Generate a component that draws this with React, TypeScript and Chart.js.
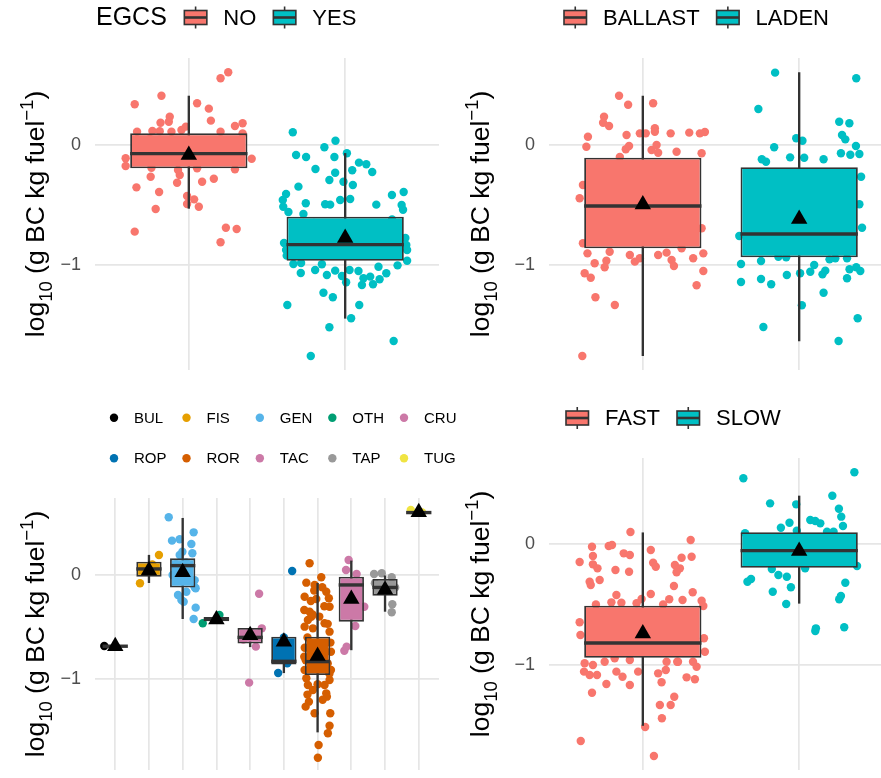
import React, { useEffect, useRef } from 'react';
import { Chart, registerables } from 'chart.js';

Chart.register(...registerables);

const FONT = '"Liberation Sans", Arial, Helvetica, sans-serif';
const RED = '#F8766D';
const CYAN = '#00BFC4';
const BOX_LINE = '#333333';
const GRID = '#E6E6E6';
const TICK_COLOR = '#4D4D4D';

// ---------------- EGCS panel ----------------
const egcsCategories = ['NO', 'YES'];
const egcsBoxLow = [-0.528, -1.444];
const egcsBoxQ1 = [-0.194, -0.964];
const egcsBoxMedian = [-0.072, -0.83];
const egcsBoxQ3 = [0.097, -0.597];
const egcsBoxHigh = [0.408, -0.07];
const egcsMeans = [-0.083, -0.774];
// [jitter offset (category units), log10 value]
const egcsNoPoints: [number, number][] = [
  [0.252, 0.606], [0.203, 0.556], [-0.175, 0.411], [-0.346, 0.339], [0.053, 0.348], [0.128, 0.303],
  [-0.122, 0.236], [-0.128, 0.194], [-0.181, 0.186], [0.141, 0.203], [0.295, 0.158], [0.344, 0.181],
  [-0.331, 0.11], [-0.233, 0.117], [-0.186, 0.114], [-0.111, 0.11], [-0.047, 0.125], [-0.019, 0.153],
  [0.203, 0.11], [0.344, 0.097], [-0.244, -0.264], [-0.335, -0.353], [-0.19, -0.392], [-0.075, -0.314],
  [-0.058, -0.25], [0.085, -0.306], [0.16, -0.281], [-0.011, -0.425], [0.034, -0.453], [0.064, -0.514],
  [-0.011, -0.492], [-0.212, -0.533], [-0.346, -0.722], [0.237, -0.689], [0.306, -0.7], [0.203, -0.811],
  [-0.404, -0.111], [-0.404, -0.175], [0.402, -0.114], [-0.239, -0.189], [-0.069, -0.208], [0.053, -0.194],
  [0.295, -0.203], [-0.1, -0.05], [0.2, 0.0], [-0.25, 0.05], [0.1, -0.12], [0.3, -0.03], [-0.3, -0.08],
];
const egcsYesPoints: [number, number][] = [
  [-0.335, 0.106], [-0.062, 0.036], [-0.133, -0.019], [-0.314, -0.083], [-0.25, -0.1], [-0.069, -0.1],
  [0.011, -0.069], [0.088, -0.147], [0.135, -0.161], [0.173, -0.225], [-0.19, -0.2], [-0.064, -0.231],
  [0.045, -0.211], [-0.101, -0.292], [-0.011, -0.306], [0.049, -0.333], [-0.299, -0.347], [-0.378, -0.408],
  [-0.399, -0.458], [-0.396, -0.514], [-0.252, -0.486], [-0.128, -0.494], [-0.096, -0.497], [-0.032, -0.458],
  [0.032, -0.45], [0.199, -0.497], [0.299, -0.417], [0.374, -0.392], [0.361, -0.5], [0.37, -0.539],
  [-0.363, -0.558], [-0.267, -0.575], [-0.331, -0.992], [-0.282, -0.983], [-0.284, -1.067], [-0.192, -1.042],
  [-0.149, -0.994], [-0.117, -1.083], [-0.064, -1.047], [-0.021, -1.092], [0.006, -1.144], [0.028, -1.042],
  [0.085, -1.05], [0.107, -1.167], [0.117, -1.111], [0.16, -1.097], [0.178, -1.161], [0.22, -1.119],
  [0.263, -1.069], [0.213, -1.014], [0.335, -1.003], [0.396, -0.964], [0.391, -0.833], [-0.374, -0.922],
  [-0.139, -1.231], [-0.079, -1.269], [-0.37, -1.333], [0.09, -1.333], [0.038, -1.444], [-0.101, -1.519],
  [0.31, -1.633], [-0.22, -1.758], [-0.391, -0.817], [-0.378, -0.875], [0.396, -0.875], [0.385, -0.775],
  [0.1, -0.7], [-0.2, -0.65], [0.25, -0.8], [-0.05, -0.9], [0.3, -0.62], [-0.3, -0.75],
];

// ---------------- Load panel ----------------
const loadCategories = ['BALLAST', 'LADEN'];
const loadBoxLow = [-1.756, -1.633];
const loadBoxQ1 = [-0.861, -0.936];
const loadBoxMedian = [-0.508, -0.742];
const loadBoxQ3 = [-0.106, -0.186];
const loadBoxHigh = [0.408, 0.603];
const loadMeans = [-0.495, -0.617];
const loadBallastPoints: [number, number][] = [
  [-0.152, 0.411], [-0.094, 0.336], [0.066, 0.348], [-0.248, 0.236], [-0.254, 0.186], [-0.216, 0.158],
  [-0.351, 0.069], [-0.361, -0.014], [-0.104, 0.083], [-0.019, 0.097], [0.019, 0.097], [0.077, 0.139],
  [0.077, 0.111], [0.178, 0.097], [0.297, 0.103], [0.365, 0.097], [0.397, 0.108], [-0.109, -0.036],
  [-0.088, -0.008], [0.056, -0.042], [0.088, 0.0], [0.098, -0.064], [0.216, -0.056], [0.376, -0.069],
  [-0.404, -0.444], [-0.383, -0.333], [0.376, -0.694], [-0.383, -0.819], [-0.354, -0.903], [-0.212, -0.889],
  [-0.308, -0.986], [-0.233, -0.964], [-0.244, -1.019], [-0.083, -0.917], [-0.051, -0.972], [-0.019, -0.944],
  [0.098, -0.917], [0.152, -0.897], [0.184, -0.958], [0.199, -1.008], [0.248, -0.861], [0.322, -0.944],
  [0.387, -0.903], [0.387, -1.05], [0.344, -1.169], [-0.372, -1.069], [-0.333, -1.106], [-0.303, -1.269],
  [-0.179, -1.333], [-0.387, -1.758], [-0.147, -0.1], [-0.2, -0.3], [0.1, -0.5], [0.3, -0.6], [-0.1, -0.7],
  [0.2, -0.2], [-0.3, -0.55], [0.0, -0.4],
];
const loadLadenPoints: [number, number][] = [
  [-0.154, 0.603], [0.365, 0.556], [-0.261, 0.3], [0.256, 0.194], [0.321, 0.181], [0.274, 0.083],
  [0.295, 0.047], [0.363, -0.008], [-0.019, 0.056], [0.021, 0.036], [-0.16, -0.019], [-0.058, -0.103],
  [0.032, -0.106], [-0.239, -0.119], [-0.212, -0.139], [0.156, -0.119], [0.267, -0.069], [0.327, -0.081],
  [0.385, -0.075], [0.396, -0.264], [0.385, -0.494], [0.402, -0.689], [-0.383, -0.758], [-0.372, -0.992],
  [-0.244, -0.967], [-0.133, -0.931], [-0.083, -0.936], [-0.372, -1.142], [-0.244, -1.117], [-0.179, -1.161],
  [-0.079, -1.083], [0.006, -1.069], [0.071, -1.056], [0.096, -1.0], [0.149, -1.078], [0.167, -1.047],
  [0.194, -0.953], [0.231, -0.944], [0.306, -0.944], [0.322, -1.036], [0.365, -1.019], [0.391, -1.05],
  [0.306, -1.111], [0.156, -1.231], [0.017, -1.336], [-0.229, -1.517], [0.374, -1.444], [0.252, -1.633],
  [0.1, -0.4], [-0.2, -0.6], [0.3, -0.3], [-0.3, -0.5], [0.0, -0.8], [0.2, -0.7],
];

// ---------------- Speed panel ----------------
const speedCategories = ['FAST', 'SLOW'];
const speedBoxLow = [-1.5, -0.49];
const speedBoxQ1 = [-0.94, -0.196];
const speedBoxMedian = [-0.818, -0.055];
const speedBoxQ3 = [-0.51, 0.097];
const speedBoxHigh = [0.093, 0.397];
const speedMeans = [-0.74, -0.058];
const speedFastPoints: [number, number][] = [
  [-0.079, 0.099], [-0.325, -0.022], [-0.218, -0.017], [-0.197, -0.008], [-0.122, -0.077], [-0.083, -0.091],
  [0.051, -0.05], [0.306, 0.033], [0.312, -0.105], [0.248, -0.113], [-0.319, -0.099], [-0.404, -0.149],
  [-0.319, -0.168], [-0.29, -0.201], [-0.175, -0.215], [-0.088, -0.229], [0.066, -0.155], [0.083, -0.188],
  [0.205, -0.174], [0.237, -0.201], [0.216, -0.234], [-0.34, -0.312], [-0.333, -0.339], [-0.276, -0.298],
  [0.199, -0.347], [0.051, -0.413], [0.319, -0.399], [-0.169, -0.421], [-0.201, -0.482], [-0.137, -0.485],
  [-0.008, -0.455], [0.169, -0.457], [0.254, -0.463], [0.376, -0.469], [0.387, -0.512], [-0.404, -0.647],
  [-0.399, -0.752], [0.391, -0.779], [0.397, -0.89], [-0.372, -0.986], [-0.319, -1.0], [-0.376, -1.055],
  [-0.34, -1.083], [-0.293, -1.083], [-0.169, -1.055], [-0.13, -1.097], [-0.233, -1.157], [-0.083, -1.165],
  [-0.03, -1.055], [0.098, -1.069], [0.12, -1.143], [0.147, -1.041], [0.22, -0.973], [0.28, -1.102],
  [0.333, -1.118], [0.344, -1.014], [-0.325, -1.229], [0.201, -1.262], [0.109, -1.331], [0.178, -1.331],
  [0.122, -1.44], [0.015, -1.512], [-0.397, -1.628], [0.071, -1.752], [-0.3, -0.5], [-0.04, -0.49],
  [0.13, -0.5], [-0.244, -0.973], [-0.18, -0.945], [-0.083, -0.959], [0.152, -0.973], [0.225, -0.973],
  [0.321, -0.973], [0.0, -0.7], [0.2, -0.6], [-0.2, -0.8], [0.1, -0.85], [-0.1, -0.65],
];
const speedSlowPoints: [number, number][] = [
  [-0.357, 0.543], [0.353, 0.593], [0.212, 0.399], [-0.186, 0.336], [-0.019, 0.328], [0.254, 0.292],
  [0.269, 0.226], [0.28, 0.149], [-0.062, 0.176], [-0.117, 0.135], [0.071, 0.198], [0.103, 0.19],
  [0.135, 0.171], [-0.015, 0.11], [0.178, 0.102], [0.22, 0.102], [-0.175, -0.207], [-0.133, -0.256],
  [-0.079, -0.27], [0.038, -0.201], [0.37, -0.182], [-0.308, -0.289], [-0.331, -0.312], [0.295, -0.32],
  [-0.053, -0.358], [-0.169, -0.394], [0.267, -0.43], [0.256, -0.457], [-0.083, -0.496], [0.107, -0.697],
  [0.103, -0.719], [0.288, -0.688], [-0.346, 0.09], [0.0, 0.0], [-0.2, -0.1], [0.2, -0.05], [0.1, -0.15],
  [-0.1, 0.05],
];

// ---------------- Ship type panel ----------------
const typeCategories = ['BUL', 'FIS', 'GEN', 'OTH', 'CRU', 'ROP', 'ROR', 'TAC', 'TAP', 'TUG'];
const typeColors = ['#000000', '#E69F00', '#56B4E9', '#009E73', '#CC79A7', '#0072B2', '#D55E00', '#CC79A7', '#999999', '#F0E442'];
const typeBoxLow = [-0.685, -0.074, -0.42, -0.464, -0.69, -0.94, -1.51, -0.72, -0.35, 0.6];
const typeBoxQ1 = [-0.685, -0.016, -0.12, -0.444, -0.66, -0.86, -0.962, -0.449, -0.199, 0.6];
const typeBoxMedian = [-0.685, 0.058, 0.09, -0.424, -0.6, -0.83, -0.833, -0.096, -0.12, 0.6];
const typeBoxQ3 = [-0.685, 0.128, 0.16, -0.405, -0.51, -0.593, -0.593, -0.016, -0.038, 0.6];
const typeBoxHigh = [-0.685, 0.19, 0.545, -0.385, -0.51, -0.593, -0.08, 0.135, 0.0, 0.6];
const typeMeans = [-0.685, 0.044, 0.025, -0.427, -0.58, -0.641, -0.778, -0.23, -0.143, 0.602];
const typeBulPoints: [number, number][] = [[-0.325, -0.683]];
const typeFisPoints: [number, number][] = [[0.296, 0.192], [-0.266, -0.08], [0.1, 0.1], [-0.1, 0.03]];
const typeGenPoints: [number, number][] = [
  [-0.414, 0.555], [0.325, 0.41], [-0.317, 0.33], [-0.089, 0.343], [0.257, 0.298], [-0.009, 0.224],
  [0.287, 0.209], [-0.089, 0.192], [0.355, -0.118], [-0.139, -0.192], [0.109, -0.161], [-0.038, -0.24],
  [0.03, -0.257], [0.385, -0.314], [0.325, -0.423], [0.355, -0.05], [0.385, -0.128], [0.0, 0.05],
  [-0.2, 0.1], [0.2, -0.05], [-0.3, 0.0], [0.1, 0.12],
];
const typeOthPoints: [number, number][] = [[-0.405, -0.464], [0.089, -0.385]];
const typeCruPoints: [number, number][] = [[0.266, -0.18], [0.346, -0.513], [0.169, -0.689], [-0.03, -1.035], [0.0, -0.55], [-0.2, -0.62]];
const typeRopPoints: [number, number][] = [[0.246, 0.038], [-0.169, -0.942], [0.0, -0.6], [0.1, -0.85]];
const typeRorPoints: [number, number][] = [
  [-0.237, 0.113], [0.109, -0.022], [-0.334, -0.074], [-0.089, -0.096], [0.139, -0.118], [0.257, -0.161],
  [-0.385, -0.209], [-0.038, -0.231], [0.334, -0.224], [0.355, -0.305], [-0.395, -0.337], [-0.237, -0.353],
  [-0.287, -0.433], [-0.186, -0.401], [0.207, -0.464], [-0.385, -0.497], [-0.139, -0.513], [0.355, -0.545],
  [0.395, -0.738], [-0.395, -0.786], [-0.385, -0.913], [0.395, -0.913], [-0.334, -0.993], [0.355, -1.01],
  [-0.287, -1.058], [0.207, -1.058], [-0.139, -1.106], [0.257, -1.138], [-0.257, -1.218], [-0.355, -1.266],
  [0.275, -1.17], [-0.089, -1.33], [0.376, -1.33], [0.355, -1.449], [0.305, -1.522], [0.03, -1.635],
  [0.009, -1.757], [-0.3, -0.6], [0.38, -0.65], [-0.38, -0.7], [0.3, -0.85], [-0.35, -0.82], [0.35, -0.95],
  [-0.2, -0.25], [0.2, -0.3], [-0.1, -0.15], [0.05, -0.4], [-0.3, -1.15], [0.15, -1.2], [0.0, -1.05],
  [-0.15, -0.38], [0.3, -0.47],
];
const typeTacPoints: [number, number][] = [
  [-0.08, 0.144], [-0.157, 0.048], [0.157, 0.01], [0.385, -0.305], [0.118, -0.49], [-0.207, -0.728],
  [-0.139, -0.689], [0.0, -0.2], [0.2, -0.1],
];
const typeTapPoints: [number, number][] = [
  [-0.325, 0.01], [-0.098, 0.016], [0.198, -0.022], [0.216, -0.282], [0.198, -0.359], [0.0, -0.1],
  [-0.2, -0.15], [0.3, -0.12], [-0.3, -0.08],
];
const typeTugPoints: [number, number][] = [[-0.237, 0.625], [0.1, 0.6]];

const yTickValues = [-1, 0];

// ---------------- plugins ----------------
const yTitlePlugin = {
  id: 'yTitle',
  afterDraw(chart: any, _args: any, opts: any) {
    const { ctx, chartArea } = chart;
    const S = opts.size;
    const parts = [
      { t: 'log', s: S, dy: 0 },
      { t: '10', s: S * 0.7, dy: S * 0.3 },
      { t: ' (g BC kg fuel', s: S, dy: 0 },
      { t: '\u22121', s: S * 0.7, dy: -S * 0.42 },
      { t: ')', s: S, dy: 0 },
    ];
    ctx.save();
    ctx.fillStyle = '#000';
    ctx.textBaseline = 'alphabetic';
    ctx.textAlign = 'left';
    let total = 0;
    const widths = parts.map((p) => {
      ctx.font = `${p.s}px ${FONT}`;
      const w = ctx.measureText(p.t).width;
      total += w;
      return w;
    });
    ctx.translate(opts.x, (chartArea.top + chartArea.bottom) / 2);
    ctx.rotate(-Math.PI / 2);
    let x = -total / 2;
    const base = S * 0.26;
    parts.forEach((p, i) => {
      ctx.font = `${p.s}px ${FONT}`;
      ctx.fillText(p.t, x, base + p.dy);
      x += widths[i];
    });
    ctx.restore();
  },
};

function drawBoxGlyph(ctx: any, x: number, y: number, fill: string) {
  const w = 22.5;
  ctx.save();
  ctx.strokeStyle = BOX_LINE;
  ctx.lineWidth = 1.6;
  ctx.beginPath();
  ctx.moveTo(x + w / 2, y - 11);
  ctx.lineTo(x + w / 2, y + 11);
  ctx.stroke();
  ctx.fillStyle = fill;
  ctx.fillRect(x, y - 7, w, 14);
  ctx.strokeRect(x, y - 7, w, 14);
  ctx.lineWidth = 2.6;
  ctx.beginPath();
  ctx.moveTo(x, y);
  ctx.lineTo(x + w, y);
  ctx.stroke();
  ctx.restore();
}

const panelLegendPlugin = {
  id: 'panelLegend',
  afterDraw(chart: any, _args: any, opts: any) {
    const ctx = chart.ctx;
    ctx.save();
    ctx.textBaseline = 'middle';
    ctx.textAlign = 'left';
    ctx.fillStyle = '#000';
    if (opts.kind === 'box') {
      let x = opts.x;
      const y = opts.y;
      if (opts.title) {
        ctx.font = `25px ${FONT}`;
        ctx.fillText(opts.title, x, y + 1);
        x += ctx.measureText(opts.title).width + 17.5;
      }
      opts.items.forEach((it: any) => {
        drawBoxGlyph(ctx, x, y, it.color);
        x += 22.5 + 16.5;
        ctx.font = `22px ${FONT}`;
        ctx.fillStyle = '#000';
        ctx.fillText(it.label, x, y + 1);
        x += ctx.measureText(it.label).width + 17;
      });
    } else if (opts.kind === 'dots') {
      const perRow = opts.perRow;
      ctx.font = `15px ${FONT}`;
      const rows = Math.ceil(opts.items.length / perRow);
      let colX = opts.x;
      for (let c = 0; c < perRow; c++) {
        let maxW = 0;
        for (let r = 0; r < rows; r++) {
          const it = opts.items[r * perRow + c];
          if (!it) continue;
          const y = opts.rowsY[r];
          ctx.fillStyle = it.color;
          ctx.beginPath();
          ctx.arc(colX, y, 4.2, 0, Math.PI * 2);
          ctx.fill();
          ctx.fillStyle = '#000';
          ctx.fillText(it.label, colX + 20, y + 1);
          maxW = Math.max(maxW, ctx.measureText(it.label).width);
        }
        colX += 20 + maxW + 20;
      }
    }
    ctx.restore();
  },
};

// ---------------- chart builder ----------------
interface PanelSpec {
  categories: string[];
  low: number[]; q1: number[]; median: number[]; q3: number[]; high: number[]; means: number[];
  fills: string[];
  points: [number, number][][];
  pointColors: string[];
  yMin: number; yMax: number;
  axisWidth: number;
  padding: { left: number; right: number; top: number; bottom: number };
  titleX: number;
  legend: any;
}

function buildConfig(spec: PanelSpec): any {
  const idx = spec.categories.map((_, i) => i);
  const halfBox = (c: any) => {
    const xs = c.chart.scales.x;
    const v = Math.abs(xs.getPixelForValue(0.375) - xs.getPixelForValue(0));
    return isFinite(v) ? v : 0;
  };
  const datasets: any[] = [
    {
      type: 'scatter', label: 'mean',
      data: idx.map((i) => ({ x: i, y: spec.means[i] })),
      pointStyle: 'triangle', pointRadius: 9.5, pointBackgroundColor: '#000', pointBorderWidth: 0,
      order: 0,
    },
    {
      type: 'scatter', label: 'median',
      data: idx.map((i) => ({ x: i, y: spec.median[i] })),
      pointStyle: 'line', pointRadius: halfBox, pointBorderColor: BOX_LINE, pointBorderWidth: 3.4,
      order: 1,
    },
    {
      type: 'bar', label: 'box',
      data: idx.map((i) => ({ x: i, y: [spec.q1[i], spec.q3[i]] })),
      backgroundColor: spec.fills, borderColor: BOX_LINE, borderWidth: 1.8, borderSkipped: false,
      grouped: false, categoryPercentage: 1, barPercentage: 0.75,
      order: 2,
    },
    {
      type: 'bar', label: 'whisker',
      data: idx.map((i) => ({ x: i, y: [spec.low[i], spec.high[i]] })),
      backgroundColor: BOX_LINE, borderWidth: 0, barThickness: 1.7, grouped: false,
      order: 3,
    },
    ...spec.points.map((pts, gi) => ({
      type: 'scatter', label: spec.categories[gi] + ' points',
      data: pts.map(([dx, v]) => ({ x: gi + dx, y: v })),
      pointRadius: 4.2, pointBackgroundColor: spec.pointColors[gi], pointBorderWidth: 0,
      order: 4,
    })),
  ];
  return {
    type: 'scatter',
    data: { datasets },
    options: {
      responsive: false,
      animation: false,
      events: [],
      layout: { padding: spec.padding, autoPadding: false },
      plugins: {
        legend: { display: false },
        tooltip: { enabled: false },
        yTitle: { x: spec.titleX, size: 26.5 },
        panelLegend: spec.legend,
      },
      scales: {
        x: {
          type: 'linear',
          min: -0.6,
          max: spec.categories.length - 1 + 0.6,
          offset: false,
          afterBuildTicks: (axis: any) => { axis.ticks = idx.map((i) => ({ value: i })); },
          afterFit: (axis: any) => { axis.height = 0; },
          ticks: { display: false },
          grid: { color: GRID, lineWidth: 1.7, drawTicks: false, offset: false },
          border: { display: false },
        },
        y: {
          type: 'linear',
          min: spec.yMin,
          max: spec.yMax,
          afterBuildTicks: (axis: any) => { axis.ticks = yTickValues.map((v) => ({ value: v })); },
          afterFit: (axis: any) => { axis.width = spec.axisWidth; },
          ticks: {
            color: TICK_COLOR,
            font: { family: FONT, size: 18 },
            padding: 14,
            callback: (v: any) => (v < 0 ? '\u2212' + Math.abs(v) : String(v)),
          },
          grid: { color: GRID, lineWidth: 1.7, drawTicks: false },
          border: { display: false },
        },
      },
    },
    plugins: [yTitlePlugin, panelLegendPlugin],
  };
}

// canvases are taller than the visible panel so the axis label padding never squeezes the plot
const egcsSpec: PanelSpec = {
  categories: egcsCategories,
  low: egcsBoxLow, q1: egcsBoxQ1, median: egcsBoxMedian, q3: egcsBoxQ3, high: egcsBoxHigh, means: egcsMeans,
  fills: [RED, CYAN], points: [egcsNoPoints, egcsYesPoints], pointColors: [RED, CYAN],
  yMin: -1.875, yMax: 0.725, axisWidth: 95,
  padding: { left: 0, right: 1, top: 58, bottom: 40 }, titleX: 37,
  legend: { kind: 'box', x: 96, y: 17.5, title: 'EGCS', items: [{ label: 'NO', color: RED }, { label: 'YES', color: CYAN }] },
};
const loadSpec: PanelSpec = {
  categories: loadCategories,
  low: loadBoxLow, q1: loadBoxQ1, median: loadBoxMedian, q3: loadBoxQ3, high: loadBoxHigh, means: loadMeans,
  fills: [RED, CYAN], points: [loadBallastPoints, loadLadenPoints], pointColors: [RED, CYAN],
  yMin: -1.875, yMax: 0.725, axisWidth: 109,
  padding: { left: 0, right: 17, top: 58, bottom: 40 }, titleX: 42,
  legend: { kind: 'box', x: 124, y: 17.5, items: [{ label: 'BALLAST', color: RED }, { label: 'LADEN', color: CYAN }] },
};
const typeSpec: PanelSpec = {
  categories: typeCategories,
  low: typeBoxLow, q1: typeBoxQ1, median: typeBoxMedian, q3: typeBoxQ3, high: typeBoxHigh, means: typeMeans,
  fills: typeColors,
  points: [typeBulPoints, typeFisPoints, typeGenPoints, typeOthPoints, typeCruPoints, typeRopPoints, typeRorPoints, typeTacPoints, typeTapPoints, typeTugPoints],
  pointColors: typeColors,
  yMin: -1.875, yMax: 0.74, axisWidth: 95,
  padding: { left: 0, right: 31, top: 110, bottom: 40 }, titleX: 37,
  legend: { kind: 'dots', x: 114, rowsY: [29.7, 70.3], perRow: 5, items: typeCategories.map((c, i) => ({ label: c, color: typeColors[i] })) },
};
const speedSpec: PanelSpec = {
  categories: speedCategories,
  low: speedBoxLow, q1: speedBoxQ1, median: speedBoxMedian, q3: speedBoxQ3, high: speedBoxHigh, means: speedMeans,
  fills: [RED, CYAN], points: [speedFastPoints, speedSlowPoints], pointColors: [RED, CYAN],
  yMin: -1.868, yMax: 0.711, axisWidth: 109,
  padding: { left: 0, right: 17, top: 70, bottom: 40 }, titleX: 42,
  legend: { kind: 'box', x: 126, y: 30, items: [{ label: 'FAST', color: RED }, { label: 'SLOW', color: CYAN }] },
};

function Panel({ spec, left, top, width, height }: { spec: PanelSpec; left: number; top: number; width: number; height: number }) {
  const ref = useRef<HTMLCanvasElement>(null);
  useEffect(() => {
    const chart = new Chart(ref.current as HTMLCanvasElement, buildConfig(spec));
    return () => chart.destroy();
  }, [spec]);
  return (
    <div style={{ position: 'absolute', left, top, width, height }}>
      <canvas ref={ref} width={width} height={height} style={{ width, height, display: 'block' }} />
    </div>
  );
}

export default function App() {
  Chart.defaults.font.family = FONT;
  return (
    <div style={{ position: 'fixed', left: 0, top: 0, width: 881, height: 778, overflow: 'hidden', background: '#fff' }}>
      <Panel spec={egcsSpec} left={0} top={0} width={440} height={410} />
      <Panel spec={loadSpec} left={440} top={0} width={470} height={410} />
      <Panel spec={typeSpec} left={0} top={388} width={470} height={422} />
      <Panel spec={speedSpec} left={440} top={388} width={470} height={422} />
    </div>
  );
}
